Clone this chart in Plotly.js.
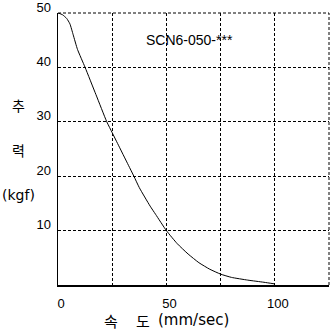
<!DOCTYPE html>
<html>
<head>
<meta charset="utf-8">
<script src="https://cdn.plot.ly/plotly-3.0.1.min.js"></script>
<style>html,body{margin:0;padding:0;background:#fff;}#chart{width:335px;height:335px;}</style>
</head>
<body>
<div id="chart"></div>
<script>
const speed = [0, 2, 4, 5.5, 7, 9, 12.5, 17.5, 22.5, 25, 27.5, 32.5, 35, 37.5, 42.5, 45, 50, 55, 60, 65, 70, 75, 80, 87.5, 95, 100];
const thrust = [50, 49.7, 49, 48, 46, 43.3, 40, 35, 30, 28, 26, 22, 20, 17.9, 14.5, 13, 10, 7.6, 5.7, 4.1, 2.9, 2.0, 1.4, 0.9, 0.5, 0.2];
const xTicks = [0, 25, 50, 75, 100, 125];
const xTickText = ['0', '', '50', '', '100', ''];
const yTicks = [0, 10, 20, 30, 40, 50];
const yTickText = ['', '10', '20', '30', '40', '50'];
const modelLabel = 'SCN6-050-***';
const xTitleParts = ['속', '도', '(mm/sec)'];
const yTitleParts = ['추', '력', '(kgf)'];

const font = 'Liberation Sans, Arial, sans-serif';
const wfont = 'DejaVu Sans, sans-serif';
const kfont = 'Noto Sans CJK KR, sans-serif';

function ann(text, x, y, anchor, fam, size) {
  return {text: text, xref: 'paper', yref: 'paper', x: x, y: y, xanchor: anchor, yanchor: 'middle',
          showarrow: false, font: {family: fam, size: size, color: '#000'}};
}

Plotly.newPlot('chart', [{
  x: speed, y: thrust, type: 'scatter', mode: 'lines',
  line: {color: '#000', width: 1, shape: 'spline', smoothing: 0.5}, hoverinfo: 'none'
}], {
  width: 335, height: 335,
  margin: {l: 58, r: 6, t: 13, b: 50},
  paper_bgcolor: '#fff', plot_bgcolor: '#fff',
  showlegend: false,
  xaxis: {
    range: [0, 125], tickvals: xTicks, ticktext: xTickText,
    showgrid: true, gridcolor: '#000', gridwidth: 1, griddash: '3px,2px',
    showline: true, linecolor: '#000', linewidth: 1.5,
    zeroline: false, ticks: '', ticklabelstandoff: 6, ticklabelshift: 3,
    tickfont: {family: font, size: 13, color: '#000'}
  },
  yaxis: {
    range: [0, 50], tickvals: yTicks, ticktext: yTickText,
    showgrid: true, gridcolor: '#000', gridwidth: 1, griddash: '3px,2px',
    showline: true, linecolor: '#000', linewidth: 1.5,
    zeroline: false, ticks: '', ticklabelshift: -6, ticklabelstandoff: 3,
    ticklabeloverflow: 'allow',
    tickfont: {family: font, size: 13, color: '#000'}
  },
  shapes: [
    {type: 'line', xref: 'paper', yref: 'paper', x0: 0, x1: 1, y0: 1, y1: 1, line: {color: '#000', width: 1, dash: '3px,2px'}},
    {type: 'line', xref: 'paper', yref: 'paper', x0: 1, x1: 1, y0: 0, y1: 1, line: {color: '#000', width: 1, dash: '3px,2px'}}
  ],
  annotations: [
    ann(modelLabel, 0.487, 0.9, 'center', font, 14),
    ann(xTitleParts[0], 0.197, -0.129, 'center', kfont, 15),
    ann(xTitleParts[1], 0.312, -0.129, 'center', kfont, 15),
    ann(xTitleParts[2], 0.363, -0.129, 'left', wfont, 15),
    ann(yTitleParts[0], -0.145, 0.66, 'center', kfont, 14),
    ann(yTitleParts[1], -0.145, 0.495, 'center', kfont, 14),
    ann(yTitleParts[2], -0.145, 0.33, 'center', wfont, 14)
  ]
}, {staticPlot: true, displayModeBar: false});
</script>
</body>
</html>
